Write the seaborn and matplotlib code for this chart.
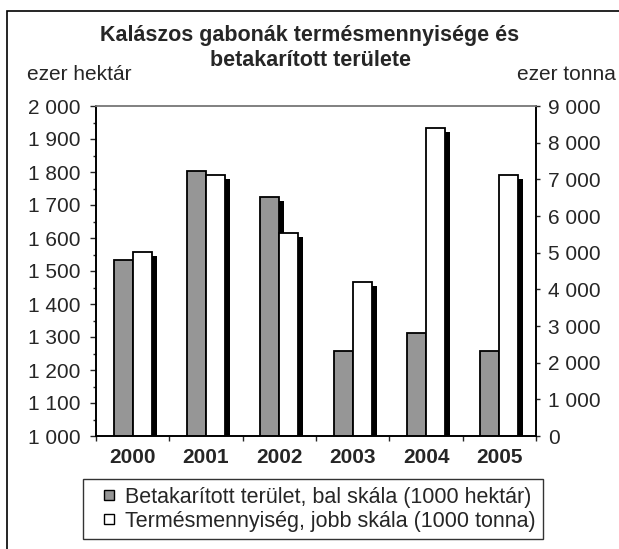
import numpy as np
import pandas as pd
import matplotlib
matplotlib.use("Agg")
import matplotlib.pyplot as plt
import matplotlib.patheffects as pe
from matplotlib.lines import Line2D
from matplotlib.patches import Rectangle
from matplotlib.ticker import FuncFormatter, MultipleLocator
import seaborn as sns

years = ["2000", "2001", "2002", "2003", "2004", "2005"]
area = [1533, 1803, 1725, 1258, 1311, 1258]          # ezer hektár (bal skála)
production = [5010, 7110, 5545, 4209, 8409, 7110]    # ezer tonna (jobb skála)

lab_area = "Betakarított terület, bal skála (1000 hektár)"
lab_prod = "Termésmennyiség, jobb skála (1000 tonna)"
title_lines = ["Kalászos gabonák termésmennyisége és", "betakarított területe"]

sns.set_style("ticks")
plt.rcParams['font.family'] = ['Liberation Sans', 'DejaVu Sans']

df_area = pd.DataFrame({"year": years, "value": area, "series": lab_area})
df_prod = pd.DataFrame({"year": years, "value": production, "series": lab_prod})
order = [lab_area, lab_prod]
pal = {lab_area: "#969696", lab_prod: "white"}

W, H = 619, 549
fig = plt.figure(figsize=(W / 100, H / 100), dpi=100)
ax1 = fig.add_axes([96 / W, 1 - 436 / H, 440 / W, 330 / H])
ax2 = ax1.twinx()

sns.barplot(data=df_area, x="year", y="value", hue="series", hue_order=order,
            palette=pal, width=0.52, dodge=True, errorbar=None, legend=False,
            edgecolor="black", linewidth=1.3, ax=ax1)
sns.barplot(data=df_prod, x="year", y="value", hue="series", hue_order=order,
            palette=pal, width=0.52, dodge=True, errorbar=None, legend=False,
            edgecolor="black", linewidth=1.3, ax=ax2)

# fekete árnyék a hasábok mögött
shadow = [pe.SimplePatchShadow(offset=(3.6, -2.9), shadow_rgbFace="black", alpha=1.0),
          pe.Normal()]
for ax in (ax1, ax2):
    for p in ax.patches:
        p.set_path_effects(shadow)

ax1.set_ylim(1000, 2000)
ax2.set_ylim(0, 9000)
for ax in (ax1, ax2):
    ax.set_xlim(-0.5, 5.5)
    ax.set_xlabel("")
    ax.set_ylabel("")

fmt = FuncFormatter(lambda v, p: f"{int(v):,}".replace(",", " "))
ax1.yaxis.set_major_locator(MultipleLocator(100))
ax1.yaxis.set_minor_locator(MultipleLocator(50))
ax1.yaxis.set_major_formatter(fmt)
ax2.yaxis.set_major_locator(MultipleLocator(1000))
ax2.yaxis.set_major_formatter(fmt)

ax1.tick_params(axis="y", which="major", length=4.3, width=1, labelsize=15, pad=7)
ax1.tick_params(axis="y", which="minor", length=2.4, width=1)
ax2.tick_params(axis="y", which="major", length=2.9, width=1, labelsize=15, pad=5.5)

ax1.set_xticks(range(len(years)))
ax1.set_xticklabels(years, fontweight="bold", fontsize=15)
ax1.set_xticks(np.arange(-0.5, 6, 1), minor=True)
ax1.tick_params(axis="x", which="major", length=0, pad=8.5)
ax1.tick_params(axis="x", which="minor", length=3.6, width=1)
ax2.tick_params(axis="x", which="both", length=0, labelbottom=False)

for ax in (ax1, ax2):
    for s in ("left", "right", "bottom"):
        ax.spines[s].set_color("black")
        ax.spines[s].set_linewidth(1.2)
    ax.spines["top"].set_color("#808080")
    ax.spines["top"].set_linewidth(1.2)
    ax.spines["top"].set_visible(True)
    ax.spines["right"].set_visible(True)

# cím két sorban, külön szövegként
fig.text(310 / W, 1 - 41 / H, title_lines[0], ha="center", va="baseline",
         fontsize=15.5, fontweight="bold")
fig.text(310 / W, 1 - 66 / H, title_lines[1], ha="center", va="baseline",
         fontsize=15.5, fontweight="bold")
fig.text(27 / W, 1 - 79.5 / H, "ezer hektár", ha="left", va="baseline", fontsize=15)
fig.text(616 / W, 1 - 79.5 / H, "ezer tonna", ha="right", va="baseline", fontsize=15)

handles = [Line2D([], [], ls="none", marker="s", markersize=7.2,
                  markerfacecolor="#969696", markeredgecolor="black",
                  markeredgewidth=1.0, label=lab_area),
           Line2D([], [], ls="none", marker="s", markersize=7.2,
                  markerfacecolor="white", markeredgecolor="black",
                  markeredgewidth=1.0, label=lab_prod)]
leg = fig.legend(handles=handles, loc="upper left",
                 bbox_to_anchor=(83 / W, 1 - 479 / H), fontsize=15.5,
                 frameon=True, fancybox=False, handlelength=1.7,
                 handletextpad=-0.1, borderpad=0.35, labelspacing=0.15,
                 borderaxespad=0)
leg.get_frame().set_edgecolor("black")
leg.get_frame().set_linewidth(1.0)

# külső keret
fig.patches.append(Rectangle((6.5 / W, -0.1), 1.2, 1 - 11 / H + 0.1,
                             transform=fig.transFigure, fill=False,
                             edgecolor="black", linewidth=1.2))

fig.savefig("out.png", dpi=100)
